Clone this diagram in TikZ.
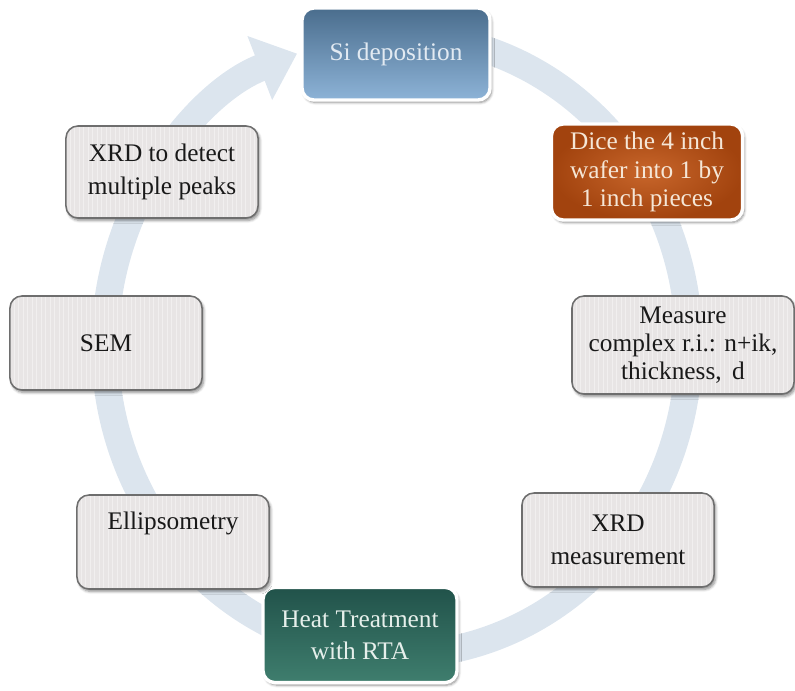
\documentclass[tikz,border=0pt]{standalone}
\usepackage{fontspec}
\setmainfont{Liberation Serif}
\usepackage{xcolor}
\usepackage{tikz}
\usetikzlibrary{arrows.meta, shadows.blur}
\definecolor{ringblue}{HTML}{DCE5EE}
\definecolor{boxgray}{HTML}{E8E5E5}
\definecolor{boxborder}{HTML}{6E6E6E}
\definecolor{stripe}{HTML}{F1EFEF}
\definecolor{sitop}{HTML}{4A6D8D}
\definecolor{sibot}{HTML}{8DB3D7}
\definecolor{diceinner}{HTML}{C8662B}
\definecolor{diceouter}{HTML}{A2430E}
\definecolor{heattop}{HTML}{21524A}
\definecolor{heatbot}{HTML}{3F7E6E}
\definecolor{sitext}{HTML}{E2EAF2}
\definecolor{dicetext}{HTML}{F5E6D6}
\definecolor{heattext}{HTML}{E6EFEB}

\tikzset{
  stagebox/.style={rounded corners=0.3cm, align=center, inner sep=2pt,
    minimum width=4.8cm, minimum height=2.35cm, font=\fontsize{18}{23}\selectfont,
    blur shadow={shadow xshift=1.2pt, shadow yshift=-1.8pt, shadow blur steps=6, shadow opacity=45}},
  graybox/.style={stagebox, fill=boxgray, draw=boxborder, line width=1.1pt, text=black!90,
    path picture={\foreach \k in {1,...,70}
      \draw[stripe, line width=0.7pt] ([xshift=\k*3.2pt]path picture bounding box.south west)
        -- ([xshift=\k*3.2pt]path picture bounding box.north west);}},
  colorbox/.style={stagebox, draw=white, line width=2.4pt},
  threeline/.style={font=\fontsize{18}{20}\selectfont}
}

\begin{document}
\begin{tikzpicture}[x=0.025cm, y=-0.025cm]
    \useasboundingbox (0,0) rectangle (795,690);

    % cycle ring behind the stages
    \coordinate (ctr) at (397,345);
    \draw[ringblue, line width=0.68cm, -{Triangle[width=1.65cm, length=1.0cm]}]
        (ctr) ++(75:7.3cm and 7.75cm)
        arc[start angle=75, end angle=-250, x radius=7.3cm, y radius=7.75cm];

    % stages
    \node[colorbox, top color=sitop, bottom color=sibot, text=sitext,
          minimum width=4.7cm, minimum height=2.3cm] (sidep) at (396,54) {Si deposition};
    \node[colorbox, threeline, inner color=diceinner, outer color=diceouter, text=dicetext,
          minimum width=4.78cm, minimum height=2.4cm] (dice) at (647,172)
          {Dice the 4 inch\\wafer into 1 by\\1 inch pieces};
    \node[graybox, threeline, minimum width=5.55cm, minimum height=2.45cm] (measure) at (683,345)
          {Measure\\complex r.i.: n+ik,\\thickness,\, d};
    \node[graybox] (xrdmeas) at (618,540) {XRD\\measurement};
    \node[colorbox, top color=heattop, bottom color=heatbot, text=heattext,
          minimum width=4.85cm, minimum height=2.38cm] (heat) at (360,635)
          {Heat Treatment\\with RTA};
    \node[graybox] (ellip) at (173,542) {Ellipsometry\\\strut};
    \node[graybox] (sem) at (106,343) {SEM};
    \node[graybox, minimum height=2.3cm] (xrddet) at (162,172) {XRD to detect\\multiple peaks};
\end{tikzpicture}
\end{document}
